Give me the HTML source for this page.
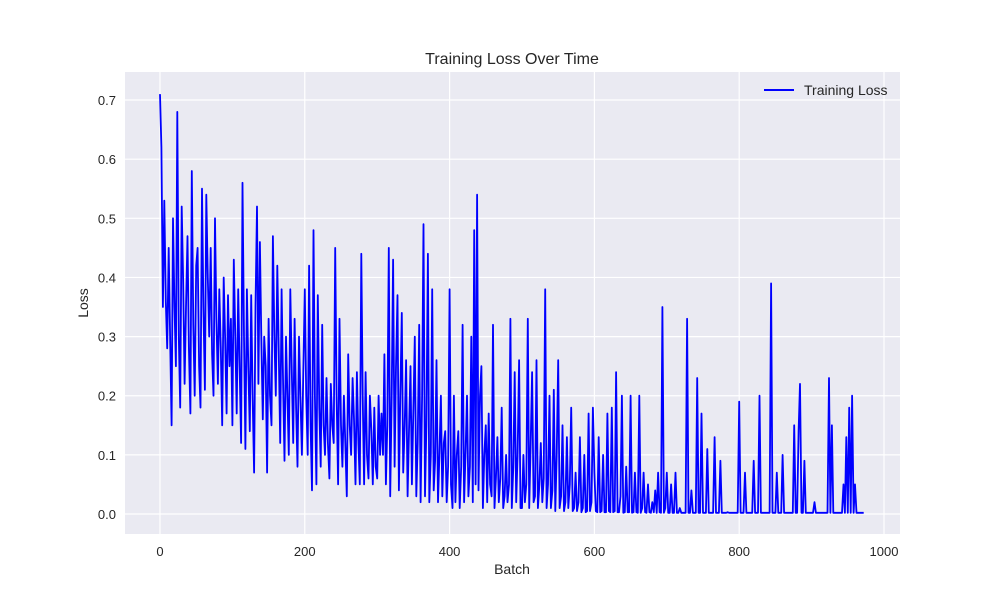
<!DOCTYPE html>
<html><head><meta charset="utf-8"><style>
body{margin:0;background:#fff;}
svg text{font-family:"Liberation Sans",Arial,sans-serif;fill:#262626;}
</style></head><body>
<svg id="chart" width="1000" height="600" xmlns="http://www.w3.org/2000/svg">
<rect x="125" y="72" width="775" height="462" fill="#eaeaf2"/>
<g id="grid"></g>
<g id="ticks"></g>
<path id="line" fill="none" stroke="#0000ff" stroke-width="1.8" stroke-linejoin="round"/>
<text x="512" y="64" text-anchor="middle" font-size="16">Training Loss Over Time</text>
<text x="512" y="574" text-anchor="middle" font-size="14">Batch</text>
<text x="88" y="303" text-anchor="middle" font-size="14" transform="rotate(-90 88 303)">Loss</text>
<g>
<line x1="764" y1="90" x2="794" y2="90" stroke="#0000ff" stroke-width="2"/>
<text x="804" y="95" font-size="14">Training Loss</text>
</g>
</svg>
<script>
const xTicks=[0,200,400,600,800,1000];
const yTicks=[0.0,0.1,0.2,0.3,0.4,0.5,0.6,0.7];
const lossValues=[
0.71,0.62,0.35,0.53,0.36,0.28,0.45,0.3,0.15,0.5,0.35,0.25,0.68,0.3,0.18,0.52,0.4,0.22,0.35,0.47,0.28,0.17,0.58,0.32,0.2,0.42,0.45,0.25,0.18,0.55,0.35,0.21,0.54,0.4,0.3,0.45,0.27,0.2,0.5,0.33,0.22,0.38,0.28,0.15,0.4,0.3,0.17,0.37,0.25,0.33,
0.15,0.43,0.3,0.17,0.38,0.25,0.12,0.56,0.3,0.11,0.38,0.25,0.14,0.37,0.2,0.07,0.35,0.52,0.22,0.46,0.3,0.16,0.3,0.25,0.07,0.33,0.2,0.15,0.47,0.3,0.2,0.42,0.28,0.12,0.38,0.22,0.09,0.3,0.2,0.1,0.38,0.25,0.12,0.33,0.18,0.08,0.3,0.2,0.1,0.24,
0.38,0.2,0.1,0.42,0.15,0.04,0.48,0.2,0.05,0.37,0.18,0.08,0.32,0.15,0.1,0.23,0.12,0.06,0.22,0.15,0.12,0.45,0.2,0.05,0.33,0.15,0.08,0.2,0.12,0.03,0.27,0.15,0.1,0.23,0.16,0.05,0.24,0.12,0.05,0.44,0.2,0.05,0.24,0.1,0.06,0.2,0.14,0.05,0.18,0.08,
0.06,0.2,0.1,0.17,0.1,0.27,0.05,0.15,0.45,0.03,0.2,0.43,0.08,0.25,0.37,0.04,0.2,0.34,0.07,0.15,0.26,0.03,0.14,0.25,0.05,0.18,0.3,0.03,0.12,0.32,0.02,0.2,0.49,0.03,0.15,0.44,0.02,0.1,0.38,0.04,0.09,0.26,0.02,0.1,0.2,0.03,0.12,0.14,0.02,0.08,
0.38,0.05,0.01,0.2,0.02,0.1,0.14,0.01,0.08,0.32,0.02,0.1,0.2,0.03,0.08,0.3,0.02,0.48,0.05,0.54,0.04,0.2,0.25,0.01,0.1,0.15,0.02,0.17,0.05,0.03,0.32,0.01,0.06,0.13,0.02,0.06,0.18,0.01,0.03,0.1,0.02,0.05,0.33,0.01,0.08,0.24,0.02,0.1,0.26,0.01,
0.01,0.1,0.02,0.05,0.33,0.01,0.12,0.24,0.02,0.03,0.26,0.01,0.05,0.12,0.02,0.06,0.38,0.01,0.05,0.2,0.01,0.04,0.21,0.005,0.1,0.26,0.01,0.03,0.15,0.005,0.02,0.13,0.01,0.05,0.18,0.005,0.01,0.07,0.005,0.02,0.13,0.003,0.01,0.1,0.003,0.005,0.17,0.005,0.02,0.18,
0.07,0.005,0.003,0.13,0.003,0.005,0.1,0.003,0.003,0.17,0.005,0.003,0.18,0.003,0.005,0.24,0.003,0.003,0.03,0.2,0.002,0.003,0.08,0.003,0.003,0.2,0.002,0.003,0.07,0.003,0.002,0.2,0.002,0.01,0.07,0.003,0.002,0.05,0.003,0.002,0.02,0.003,0.04,0.002,0.07,0.003,0.002,0.35,0.002,0.01,
0.07,0.002,0.002,0.05,0.002,0.002,0.07,0.002,0.002,0.01,0.002,0.002,0.002,0.002,0.33,0.002,0.002,0.04,0.002,0.002,0.002,0.23,0.002,0.002,0.17,0.002,0.002,0.002,0.11,0.002,0.002,0.002,0.002,0.13,0.002,0.002,0.002,0.09,0.002,0.002,0.002,0.002,0.003,0.002,0.002,0.002,0.002,0.002,0.002,0.002,
0.19,0.002,0.002,0.002,0.07,0.002,0.002,0.002,0.002,0.002,0.09,0.002,0.002,0.002,0.2,0.002,0.002,0.002,0.002,0.002,0.002,0.002,0.39,0.002,0.002,0.002,0.07,0.002,0.002,0.002,0.1,0.002,0.002,0.002,0.002,0.002,0.002,0.002,0.15,0.002,0.002,0.14,0.22,0.002,0.002,0.09,0.002,0.002,0.002,0.002,
0.002,0.002,0.02,0.002,0.002,0.002,0.002,0.002,0.002,0.002,0.002,0.002,0.23,0.002,0.15,0.002,0.002,0.002,0.002,0.002,0.002,0.002,0.05,0.002,0.13,0.002,0.18,0.002,0.2,0.002,0.05,0.002,0.002,0.002,0.002,0.002,0.002
];
const batchStep=2;
const X0=125,X1=900,Y0=534,Y1=72;
const xMin=-48.3,xMax=1022.1,yMin=-0.0338,yMax=0.7474;
function sx(v){return X0+(v-xMin)/(xMax-xMin)*(X1-X0);}
function sy(v){return Y0-(v-yMin)/(yMax-yMin)*(Y0-Y1);}
const NS="http://www.w3.org/2000/svg";
const grid=document.getElementById('grid'),ticks=document.getElementById('ticks');
xTicks.forEach(t=>{
 const l=document.createElementNS(NS,'line');
 l.setAttribute('x1',sx(t));l.setAttribute('x2',sx(t));l.setAttribute('y1',Y1);l.setAttribute('y2',Y0);
 l.setAttribute('stroke','#fff');l.setAttribute('stroke-width','1.2');
 
 
 grid.appendChild(l);
 const tx=document.createElementNS(NS,'text');
 tx.setAttribute('x',sx(t));tx.setAttribute('y',Y0+22);tx.setAttribute('text-anchor','middle');tx.setAttribute('font-size','13');
 tx.textContent=t;
 
 
 ticks.appendChild(tx);
});
yTicks.forEach(t=>{
 const l=document.createElementNS(NS,'line');
 l.setAttribute('x1',X0);l.setAttribute('x2',X1);l.setAttribute('y1',sy(t));l.setAttribute('y2',sy(t));
 l.setAttribute('stroke','#fff');l.setAttribute('stroke-width','1.2');
 
 
 grid.appendChild(l);
 const tx=document.createElementNS(NS,'text');
 tx.setAttribute('x',X0-9);tx.setAttribute('y',sy(t)+5);tx.setAttribute('text-anchor','end');tx.setAttribute('font-size','13');
 tx.textContent=t.toFixed(1);
 
 
 ticks.appendChild(tx);
});
document.getElementById('line').setAttribute('d',lossValues.map((v,i)=>(i?'L':'M')+sx(i*batchStep).toFixed(1)+','+sy(v).toFixed(1)).join(''));
</script>
</body></html>
